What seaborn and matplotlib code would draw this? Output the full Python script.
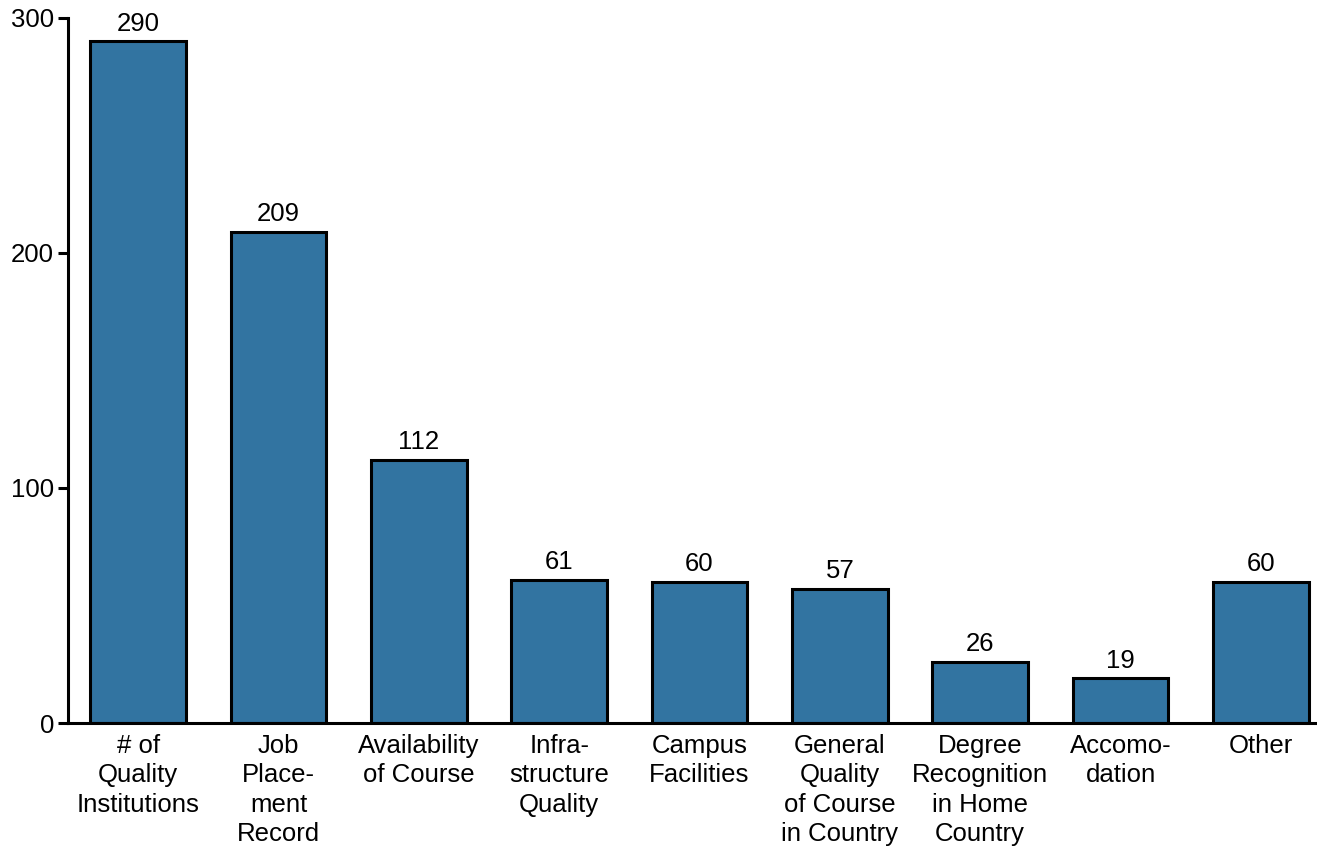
import matplotlib
matplotlib.use("Agg")
import matplotlib.pyplot as plt
import seaborn as sns
import pandas as pd

categories = [
    "# of\nQuality\nInstitutions",
    "Job\nPlace-\nment\nRecord",
    "Availability\nof Course",
    "Infra-\nstructure\nQuality",
    "Campus\nFacilities",
    "General\nQuality\nof Course\nin Country",
    "Degree\nRecognition\nin Home\nCountry",
    "Accomo-\ndation",
    "Other",
]
counts = [290, 209, 112, 61, 60, 57, 26, 19, 60]
y_ticks = [0, 100, 200, 300]

sns.set_theme(style="ticks")
plt.rcParams["font.family"] = ["Liberation Sans", "DejaVu Sans"]

df = pd.DataFrame({"category": categories, "count": counts})

fig = plt.figure(figsize=(13.17, 8.48), dpi=100)
ax = fig.add_axes([0.0516, 0.1474, 0.9484, 0.8314])

sns.barplot(data=df, x="category", y="count", color="tab:blue",
            width=0.68, edgecolor="black", linewidth=2.2, ax=ax)

for c in ax.containers:
    ax.bar_label(c, fontsize=18.5, padding=4, color="black")

ax.set_xlim(-0.5, 8.4)
ax.set_ylim(0, 300)
ax.set_yticks(y_ticks)
ax.set_xlabel("")
ax.set_ylabel("")
ax.tick_params(axis="y", labelsize=18.5, width=2.2, length=7,
               color="black", labelcolor="black", pad=3)
ax.tick_params(axis="x", labelsize=18.5, length=0, pad=8, labelcolor="black")
for lbl in ax.get_xticklabels():
    lbl.set_linespacing(1.28)
for side in ["top", "right"]:
    ax.spines[side].set_visible(False)
for side in ["left", "bottom"]:
    ax.spines[side].set_linewidth(2.2)
    ax.spines[side].set_color("black")

fig.savefig("out.png", dpi=100)
